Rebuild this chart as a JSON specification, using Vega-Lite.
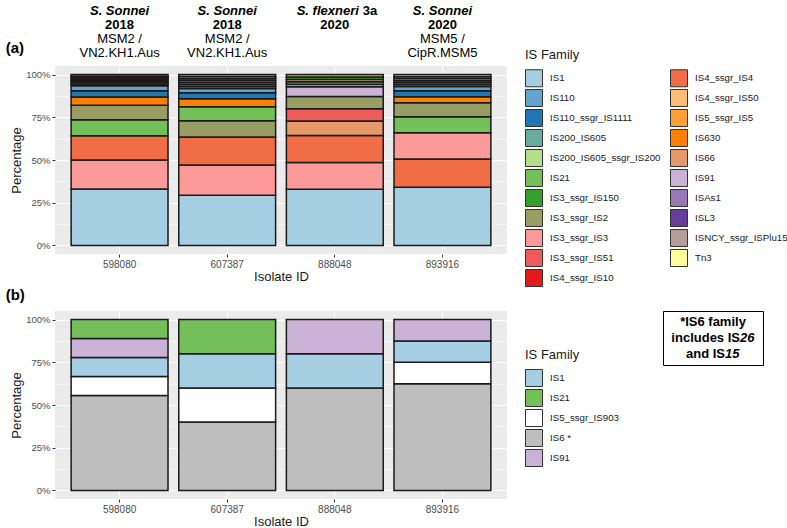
{
  "$schema": "https://vega.github.io/schema/vega-lite/v6.json",
  "padding": {"left": 5, "top": 4, "right": 0, "bottom": 0},
  "datasets": {
    "isA": [
      {"isolate": "598080", "family": "IS1", "count": 35},
      {"isolate": "598080", "family": "IS3_ssgr_IS3", "count": 18},
      {"isolate": "598080", "family": "IS4_ssgr_IS4", "count": 15},
      {"isolate": "598080", "family": "IS21", "count": 10},
      {"isolate": "598080", "family": "IS3_ssgr_IS2", "count": 9},
      {"isolate": "598080", "family": "IS630", "count": 5},
      {"isolate": "598080", "family": "IS110_ssgr_IS1111", "count": 4},
      {"isolate": "598080", "family": "IS110", "count": 3},
      {"isolate": "598080", "family": "IS3_ssgr_IS51", "count": 1},
      {"isolate": "598080", "family": "ISAs1", "count": 1},
      {"isolate": "598080", "family": "ISL3", "count": 1},
      {"isolate": "598080", "family": "ISNCY_ssgr_ISPlu15", "count": 1},
      {"isolate": "598080", "family": "IS4_ssgr_IS10", "count": 1},
      {"isolate": "598080", "family": "Tn3", "count": 1},
      {"isolate": "598080", "family": "IS5_ssgr_IS5", "count": 1},
      {"isolate": "607387", "family": "IS1", "count": 25},
      {"isolate": "607387", "family": "IS3_ssgr_IS3", "count": 15},
      {"isolate": "607387", "family": "IS4_ssgr_IS4", "count": 14},
      {"isolate": "607387", "family": "IS3_ssgr_IS2", "count": 8},
      {"isolate": "607387", "family": "IS21", "count": 7},
      {"isolate": "607387", "family": "IS630", "count": 4},
      {"isolate": "607387", "family": "IS110_ssgr_IS1111", "count": 3},
      {"isolate": "607387", "family": "IS110", "count": 2},
      {"isolate": "607387", "family": "IS200_IS605", "count": 1},
      {"isolate": "607387", "family": "ISAs1", "count": 1},
      {"isolate": "607387", "family": "IS3_ssgr_IS51", "count": 1},
      {"isolate": "607387", "family": "ISNCY_ssgr_ISPlu15", "count": 1},
      {"isolate": "607387", "family": "ISL3", "count": 1},
      {"isolate": "607387", "family": "IS66", "count": 1},
      {"isolate": "607387", "family": "IS200_IS605_ssgr_IS200", "count": 1},
      {"isolate": "888048", "family": "IS1", "count": 23},
      {"isolate": "888048", "family": "IS3_ssgr_IS3", "count": 11},
      {"isolate": "888048", "family": "IS4_ssgr_IS4", "count": 11},
      {"isolate": "888048", "family": "IS66", "count": 6},
      {"isolate": "888048", "family": "IS3_ssgr_IS51", "count": 5},
      {"isolate": "888048", "family": "IS3_ssgr_IS2", "count": 5},
      {"isolate": "888048", "family": "IS91", "count": 4},
      {"isolate": "888048", "family": "IS110", "count": 1},
      {"isolate": "888048", "family": "IS200_IS605", "count": 1},
      {"isolate": "888048", "family": "IS4_ssgr_IS50", "count": 1},
      {"isolate": "888048", "family": "IS3_ssgr_IS150", "count": 1},
      {"isolate": "888048", "family": "IS5_ssgr_IS5", "count": 1},
      {"isolate": "893916", "family": "IS1", "count": 29},
      {"isolate": "893916", "family": "IS4_ssgr_IS4", "count": 14},
      {"isolate": "893916", "family": "IS3_ssgr_IS3", "count": 13},
      {"isolate": "893916", "family": "IS21", "count": 8},
      {"isolate": "893916", "family": "IS3_ssgr_IS2", "count": 7},
      {"isolate": "893916", "family": "IS630", "count": 3},
      {"isolate": "893916", "family": "IS110_ssgr_IS1111", "count": 3},
      {"isolate": "893916", "family": "IS110", "count": 2},
      {"isolate": "893916", "family": "IS3_ssgr_IS51", "count": 1},
      {"isolate": "893916", "family": "ISAs1", "count": 1},
      {"isolate": "893916", "family": "ISL3", "count": 1},
      {"isolate": "893916", "family": "IS4_ssgr_IS50", "count": 1},
      {"isolate": "893916", "family": "IS3_ssgr_IS150", "count": 1},
      {"isolate": "893916", "family": "Tn3", "count": 1}
    ],
    "isB": [
      {"isolate": "598080", "family": "IS6", "count": 5},
      {"isolate": "598080", "family": "IS5_ssgr_IS903", "count": 1},
      {"isolate": "598080", "family": "IS1", "count": 1},
      {"isolate": "598080", "family": "IS91", "count": 1},
      {"isolate": "598080", "family": "IS21", "count": 1},
      {"isolate": "607387", "family": "IS6", "count": 2},
      {"isolate": "607387", "family": "IS5_ssgr_IS903", "count": 1},
      {"isolate": "607387", "family": "IS1", "count": 1},
      {"isolate": "607387", "family": "IS21", "count": 1},
      {"isolate": "888048", "family": "IS6", "count": 3},
      {"isolate": "888048", "family": "IS1", "count": 1},
      {"isolate": "888048", "family": "IS91", "count": 1},
      {"isolate": "893916", "family": "IS6", "count": 5},
      {"isolate": "893916", "family": "IS5_ssgr_IS903", "count": 1},
      {"isolate": "893916", "family": "IS1", "count": 1},
      {"isolate": "893916", "family": "IS91", "count": 1}
    ],
    "headers": [
      {"isolate": "598080", "species": "S. Sonnei", "serotype": "", "year": "2018", "lineage1": "MSM2 /", "lineage2": "VN2.KH1.Aus"},
      {"isolate": "607387", "species": "S. Sonnei", "serotype": "", "year": "2018", "lineage1": "MSM2 /", "lineage2": "VN2.KH1.Aus"},
      {"isolate": "888048", "species": "S. flexneri", "serotype": "3a", "year": "2020", "lineage1": "", "lineage2": ""},
      {"isolate": "893916", "species": "S. Sonnei", "serotype": "", "year": "2020", "lineage1": "MSM5 /", "lineage2": "CipR.MSM5"}
    ],
    "note": [
      {"line": 1, "main": "*IS6 family", "italic": ""},
      {"line": 2, "main": "includes IS", "italic": "26"},
      {"line": 3, "main": "and IS", "italic": "15"}
    ]
  },
  "config": {
    "font": "Liberation Sans",
    "view": {"fill": "#EBEBEB", "stroke": null},
    "axis": {
      "labelFont": "Liberation Sans",
      "labelFontSize": 10,
      "labelColor": "#4D4D4D",
      "titleFont": "Liberation Sans",
      "titleFontSize": 13,
      "titleFontWeight": "normal",
      "titleColor": "#1A1A1A",
      "domain": false,
      "tickColor": "#333333",
      "tickSize": 3,
      "tickWidth": 1,
      "labelPadding": 2,
      "gridColor": "#FFFFFF",
      "gridWidth": 1.1
    },
    "axisX": {"grid": true, "bandPosition": 0.5, "labelAngle": 0, "titlePadding": 1},
    "axisY": {"titlePadding": 2, "labelFontSize": 9.5},
    "legend": {
      "orient": "none",
      "direction": "vertical",
      "titleFont": "Liberation Sans",
      "titleFontSize": 13,
      "titleFontWeight": "normal",
      "titleColor": "#1A1A1A",
      "titlePadding": 7,
      "labelFont": "Liberation Sans",
      "labelFontSize": 9.7,
      "labelColor": "#1A1A1A",
      "labelOffset": 7,
      "symbolType": "square",
      "symbolSize": 289,
      "symbolStrokeColor": "#333333",
      "symbolStrokeWidth": 1,
      "rowPadding": -4,
      "columnPadding": 7,
      "padding": 0
    },
    "title": {"font": "Liberation Sans", "fontSize": 15, "fontWeight": "bold", "color": "#000000", "anchor": "start", "frame": "bounds", "baseline": "bottom"}
  },
  "columns": 2,
  "spacing": {"row": 57, "column": 156},
  "bounds": "flush",
  "resolve": {"scale": {"color": "independent", "x": "independent", "y": "independent"}},
  "concat": [
    {
      "width": 452,
      "height": 188,
      "title": {"text": "(a)", "offset": 0, "dy": 51, "dx": -5},
      "layer": [
        {
          "data": {"name": "isA"},
          "mark": {"type": "bar", "stroke": "#1A1A1A", "strokeWidth": 1.5},
          "encoding": {
            "x": {"field": "isolate", "type": "nominal", "title": "Isolate ID", "scale": {"paddingInner": 0.1, "paddingOuter": 0.15}},
            "y": {
              "field": "count", "type": "quantitative", "stack": "normalize", "title": "Percentage",
              "scale": {"domain": [-0.05, 1.05], "nice": false},
              "axis": {
                "values": [0, 0.125, 0.25, 0.375, 0.5, 0.625, 0.75, 0.875, 1],
                "labelExpr": "round(datum.value*8) % 2 == 0 ? format(datum.value, '.0%') : ''",
                "grid": true,
                "gridWidth": {"condition": {"test": "round(datum.value*8) % 2 == 1", "value": 0.55}, "value": 1.1},
                "tickOpacity": {"condition": {"test": "round(datum.value*8) % 2 == 1", "value": 0}, "value": 1}
              }
            },
            "color": {
              "field": "family", "type": "nominal",
              "scale": {
                "domain": ["IS1", "IS110", "IS110_ssgr_IS1111", "IS200_IS605", "IS200_IS605_ssgr_IS200", "IS21", "IS3_ssgr_IS150", "IS3_ssgr_IS2", "IS3_ssgr_IS3", "IS3_ssgr_IS51", "IS4_ssgr_IS10", "IS4_ssgr_IS4", "IS4_ssgr_IS50", "IS5_ssgr_IS5", "IS630", "IS66", "IS91", "ISAs1", "ISL3", "ISNCY_ssgr_ISPlu15", "Tn3"],
                "range": ["#A6CEE3", "#63A3CC", "#1F78B4", "#69AC9F", "#B2DF8A", "#73C05B", "#33A02C", "#979D63", "#FB9A99", "#EF5A5B", "#E31A1C", "#F06D46", "#FDBF6F", "#FE9F38", "#FF7F00", "#E5996B", "#CAB2D6", "#9A78B8", "#6A3D9A", "#B59E9A", "#FFFF99"]
              },
              "legend": {"title": "IS Family", "columns": 2, "legendX": 470, "legendY": -17}
            },
            "order": {"field": "count", "sort": "descending"}
          }
        },
        {
          "data": {"name": "headers"},
          "layer": [
            {
              "transform": [{"filter": "datum.serotype == ''"}],
              "mark": {"type": "text", "fontSize": 13, "fontWeight": "bold", "fontStyle": "italic", "baseline": "middle", "color": "#000000"},
              "encoding": {
                "x": {"field": "isolate", "type": "nominal", "title": "Isolate ID"},
                "y": {"datum": "species", "type": "ordinal", "scale": {"type": "point", "domain": ["species", "year", "lineage1", "lineage2"], "range": [-55.5, -13.5], "padding": 0}, "axis": null},
                "text": {"field": "species"}
              }
            },
            {
              "transform": [{"filter": "datum.serotype != ''"}],
              "mark": {"type": "text", "fontSize": 13, "fontWeight": "bold", "fontStyle": "italic", "baseline": "middle", "align": "right", "dx": 24, "color": "#000000"},
              "encoding": {
                "x": {"field": "isolate", "type": "nominal", "title": "Isolate ID"},
                "y": {"datum": "species", "type": "ordinal", "axis": null},
                "text": {"field": "species"}
              }
            },
            {
              "transform": [{"filter": "datum.serotype != ''"}],
              "mark": {"type": "text", "fontSize": 13, "fontWeight": "bold", "baseline": "middle", "align": "left", "dx": 28, "color": "#000000"},
              "encoding": {
                "x": {"field": "isolate", "type": "nominal", "title": "Isolate ID"},
                "y": {"datum": "species", "type": "ordinal", "axis": null},
                "text": {"field": "serotype"}
              }
            },
            {
              "mark": {"type": "text", "fontSize": 13, "fontWeight": "bold", "baseline": "middle", "color": "#000000"},
              "encoding": {
                "x": {"field": "isolate", "type": "nominal", "title": "Isolate ID"},
                "y": {"datum": "year", "type": "ordinal", "axis": null},
                "text": {"field": "year"}
              }
            },
            {
              "mark": {"type": "text", "fontSize": 13, "baseline": "middle", "color": "#000000"},
              "encoding": {
                "x": {"field": "isolate", "type": "nominal", "title": "Isolate ID"},
                "y": {"datum": "lineage1", "type": "ordinal", "axis": null},
                "text": {"field": "lineage1"}
              }
            },
            {
              "mark": {"type": "text", "fontSize": 13, "baseline": "middle", "color": "#000000"},
              "encoding": {
                "x": {"field": "isolate", "type": "nominal", "title": "Isolate ID"},
                "y": {"datum": "lineage2", "type": "ordinal", "axis": null},
                "text": {"field": "lineage2"}
              }
            }
          ]
        }
      ],
      "resolve": {"scale": {"y": "independent"}}
    },
    {
      "width": 100,
      "height": 1,
      "view": {"fill": null, "stroke": null},
      "data": {"values": [{"a": 1}]},
      "mark": {"type": "point", "opacity": 0},
      "encoding": {}
    },
    {
      "width": 452,
      "height": 188,
      "title": {"text": "(b)", "offset": 8, "dx": -5},
      "data": {"name": "isB"},
      "mark": {"type": "bar", "stroke": "#1A1A1A", "strokeWidth": 1.5},
      "encoding": {
        "x": {"field": "isolate", "type": "nominal", "title": "Isolate ID", "scale": {"paddingInner": 0.1, "paddingOuter": 0.15}},
        "y": {
          "field": "count", "type": "quantitative", "stack": "normalize", "title": "Percentage",
          "scale": {"domain": [-0.05, 1.05], "nice": false},
          "axis": {
            "values": [0, 0.125, 0.25, 0.375, 0.5, 0.625, 0.75, 0.875, 1],
            "labelExpr": "round(datum.value*8) % 2 == 0 ? format(datum.value, '.0%') : ''",
            "grid": true,
            "gridWidth": {"condition": {"test": "round(datum.value*8) % 2 == 1", "value": 0.55}, "value": 1.1},
            "tickOpacity": {"condition": {"test": "round(datum.value*8) % 2 == 1", "value": 0}, "value": 1}
          }
        },
        "color": {
          "field": "family", "type": "nominal",
          "scale": {
            "domain": ["IS1", "IS21", "IS5_ssgr_IS903", "IS6", "IS91"],
            "range": ["#A6CEE3", "#73C05B", "#FFFFFF", "#BEBEBE", "#CAB2D6"]
          },
          "legend": {"title": "IS Family", "legendX": 470, "legendY": 38, "labelExpr": "datum.label == 'IS6' ? 'IS6 *' : datum.label"}
        },
        "order": {"field": "count", "sort": "descending"}
      }
    },
    {
      "width": 100,
      "height": 54,
      "view": {"fill": "#FFFFFF", "stroke": "#000000", "strokeWidth": 1},
      "data": {"name": "note"},
      "encoding": {
        "y": {"field": "line", "type": "ordinal", "scale": {"type": "point", "domain": [1, 2, 3], "padding": 0.6875}, "axis": null}
      },
      "layer": [
        {
          "transform": [{"filter": "datum.line == 1"}],
          "mark": {"type": "text", "fontSize": 13, "fontWeight": "bold", "baseline": "middle", "color": "#000000"},
          "encoding": {"text": {"field": "main"}}
        },
        {
          "transform": [{"filter": "datum.line == 2"}],
          "mark": {"type": "text", "fontSize": 13, "fontWeight": "bold", "baseline": "middle", "align": "right", "dx": 27, "color": "#000000"},
          "encoding": {"text": {"field": "main"}}
        },
        {
          "transform": [{"filter": "datum.line == 2"}],
          "mark": {"type": "text", "fontSize": 13, "fontWeight": "bold", "fontStyle": "italic", "baseline": "middle", "align": "left", "dx": 27, "color": "#000000"},
          "encoding": {"text": {"field": "italic"}}
        },
        {
          "transform": [{"filter": "datum.line == 3"}],
          "mark": {"type": "text", "fontSize": 13, "fontWeight": "bold", "baseline": "middle", "align": "right", "dx": 12, "color": "#000000"},
          "encoding": {"text": {"field": "main"}}
        },
        {
          "transform": [{"filter": "datum.line == 3"}],
          "mark": {"type": "text", "fontSize": 13, "fontWeight": "bold", "fontStyle": "italic", "baseline": "middle", "align": "left", "dx": 12, "color": "#000000"},
          "encoding": {"text": {"field": "italic"}}
        }
      ]
    }
  ]
}
